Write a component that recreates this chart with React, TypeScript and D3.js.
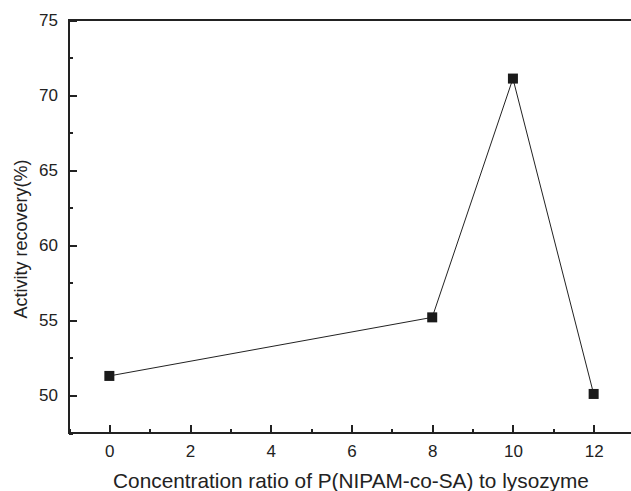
import React, { useEffect, useRef } from 'react';
import * as d3 from 'd3';

const ratios = [0, 8, 10, 12];
const recovery = [51.3, 55.2, 71.1, 50.1];
const xTicks = [0, 2, 4, 6, 8, 10, 12];
const xMinor = [-1, 1, 3, 5, 7, 9, 11, 13];
const yTicks = [50, 55, 60, 65, 70, 75];
const yMinor = [47.5, 52.5, 57.5, 62.5, 67.5, 72.5];

const FONT = 'Liberation Sans, Arial, sans-serif';

const App = () => {
  const ref = useRef<SVGSVGElement>(null);

  useEffect(() => {
    const svg = d3.select(ref.current);
    svg.selectAll('*').remove();

    const left = 69, top = 20, right = 634, bottom = 433;
    const ink = '#222';
    const x = d3.scaleLinear().domain([-1, 13]).range([left, right]);
    const y = d3.scaleLinear().domain([47.5, 75]).range([bottom, top]);

    // x axis, ticks point inward
    svg.append('g').attr('transform', `translate(0,${bottom})`)
      .call(d3.axisTop(x).tickValues(xMinor).tickSize(4).tickFormat(() => ''))
      .call(g => g.select('.domain').remove());
    const gx = svg.append('g').attr('transform', `translate(0,${bottom})`)
      .call(d3.axisTop(x).tickValues(xTicks).tickSize(8).tickFormat(d3.format('d')));
    gx.select('.domain').remove();
    gx.selectAll('text').attr('y', 12).attr('dy', 0).attr('dominant-baseline', 'hanging')
      .attr('font-size', 17).attr('font-family', FONT).attr('fill', ink);

    // y axis, ticks point inward
    svg.append('g').attr('transform', `translate(${left},0)`)
      .call(d3.axisRight(y).tickValues(yMinor).tickSize(4).tickFormat(() => ''))
      .call(g => g.select('.domain').remove());
    const gy = svg.append('g').attr('transform', `translate(${left},0)`)
      .call(d3.axisRight(y).tickValues(yTicks).tickSize(8).tickFormat(d3.format('d')));
    gy.select('.domain').remove();
    gy.selectAll('text').attr('x', -11).attr('text-anchor', 'end')
      .attr('font-size', 17).attr('font-family', FONT).attr('fill', ink);

    svg.selectAll('.tick line').attr('stroke', ink).attr('stroke-width', 2)
      .attr('shape-rendering', 'crispEdges');

    // frame drawn as four plain lines
    const frame = [
      [left, top, right, top], [left, bottom, right, bottom],
      [left, top, left, bottom], [right, top, right, bottom],
    ];
    svg.selectAll('.frame').data(frame).enter().append('line')
      .attr('x1', d => d[0]).attr('y1', d => d[1]).attr('x2', d => d[2]).attr('y2', d => d[3])
      .attr('stroke', ink).attr('stroke-width', 2).attr('stroke-linecap', 'square')
      .attr('shape-rendering', 'crispEdges');

    // line + square markers
    const pts = ratios.map((r, i) => [r, recovery[i]] as [number, number]);
    svg.append('path')
      .datum(pts)
      .attr('d', d3.line<[number, number]>().x(d => x(d[0])).y(d => y(d[1])))
      .attr('fill', 'none').attr('stroke', ink).attr('stroke-width', 1);
    svg.selectAll('.pt').data(pts).enter().append('rect')
      .attr('x', d => x(d[0]) - 5).attr('y', d => y(d[1]) - 5)
      .attr('width', 10).attr('height', 10).attr('fill', '#1a1a1a');

    // axis titles
    svg.append('text')
      .attr('x', 351).attr('y', 488).attr('text-anchor', 'middle')
      .attr('font-size', 20.8).attr('font-family', FONT).attr('fill', ink)
      .text('Concentration ratio of P(NIPAM-co-SA) to lysozyme');
    svg.append('text')
      .attr('transform', `translate(27,239) rotate(-90)`)
      .attr('text-anchor', 'middle')
      .attr('font-size', 18).attr('font-family', FONT).attr('fill', ink)
      .text('Activity recovery(%)');
  }, []);

  return (
    <svg ref={ref} width={631} height={491}
      style={{ position: 'absolute', left: 0, top: 0, background: '#fff' }} />
  );
};

export default App;
